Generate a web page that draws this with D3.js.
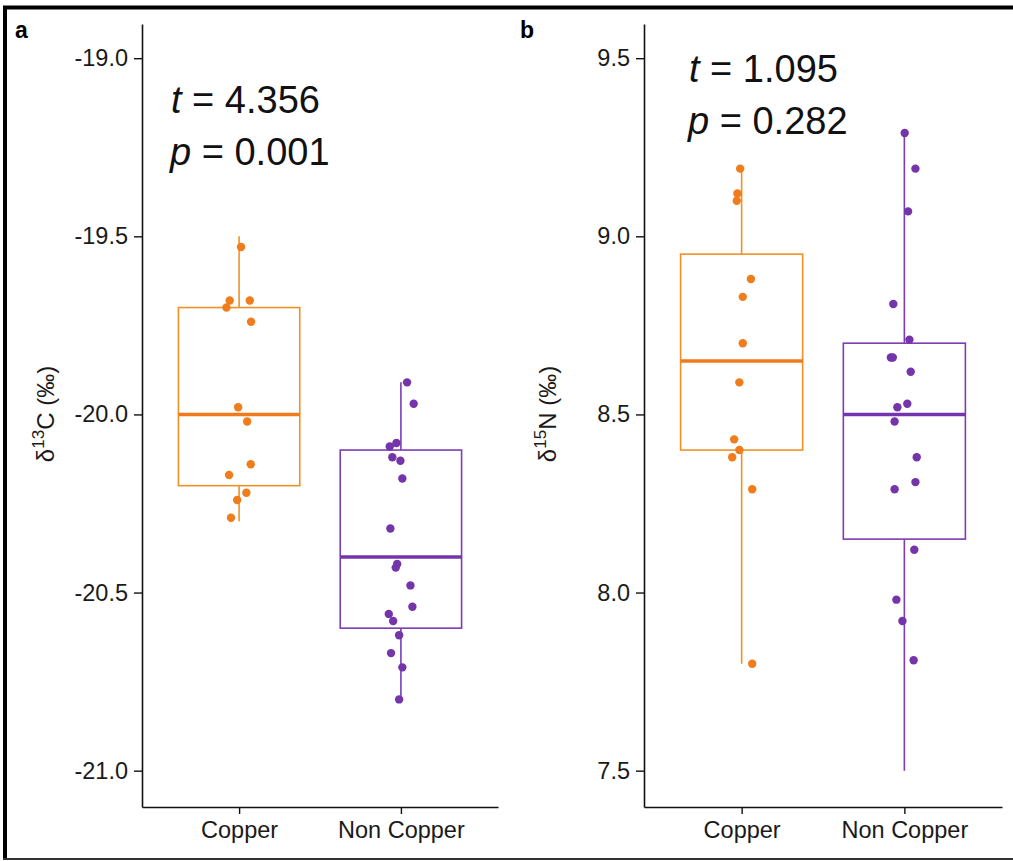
<!DOCTYPE html>
<html>
<head>
<meta charset="utf-8">
<script src="https://cdn.jsdelivr.net/npm/d3@7"></script>
<style>
body{margin:0;background:#fff;}
svg{display:block;}
text{font-family:"Liberation Sans",Arial,sans-serif;}
</style>
</head>
<body>
<svg id="chart" width="1013" height="861"></svg>
<script>
var categories = ["Copper", "Non Copper"];
var carbonTicks = [-19.0, -19.5, -20.0, -20.5, -21.0];
var nitrogenTicks = [9.5, 9.0, 8.5, 8.0, 7.5];

// lower whisker, q1, median, q3, upper whisker
var carbonCopperBox = [-20.30, -20.20, -20.00, -19.70, -19.50];
var carbonNonCopperBox = [-20.80, -20.60, -20.40, -20.10, -19.91];
var nitrogenCopperBox = [7.80, 8.40, 8.65, 8.95, 9.19];
var nitrogenNonCopperBox = [7.50, 8.15, 8.50, 8.70, 9.29];

// individual samples (value) and their horizontal jitter (category units)
var carbonCopper = [-19.53, -19.68, -19.68, -19.70, -19.74, -19.98, -20.02, -20.14, -20.17, -20.22, -20.24, -20.29];
var carbonCopperJitter = [0.012, -0.058, 0.066, -0.078, 0.074, -0.006, 0.05, 0.072, -0.062, 0.045, -0.012, -0.05];
var carbonNonCopper = [-19.91, -19.97, -20.08, -20.09, -20.12, -20.13, -20.18, -20.32, -20.42, -20.43, -20.48, -20.54, -20.56, -20.58, -20.62, -20.67, -20.71, -20.80];
var carbonNonCopperJitter = [0.038, 0.079, -0.028, -0.069, -0.053, -0.003, 0.009, -0.065, -0.023, -0.032, 0.059, 0.071, -0.075, -0.048, -0.011, -0.061, 0.009, -0.011];
var nitrogenCopper = [9.19, 9.12, 9.10, 8.88, 8.83, 8.70, 8.59, 8.43, 8.40, 8.38, 8.29, 7.80];
var nitrogenCopperJitter = [-0.009, -0.026, -0.03, 0.057, 0.007, 0.007, -0.014, -0.046, -0.014, -0.058, 0.065, 0.065];
var nitrogenNonCopper = [9.29, 9.19, 9.07, 8.81, 8.71, 8.66, 8.66, 8.62, 8.52, 8.53, 8.48, 8.38, 8.31, 8.29, 8.12, 7.98, 7.92, 7.81];
var nitrogenNonCopperJitter = [0.002, 0.068, 0.023, -0.068, 0.031, -0.083, -0.071, 0.039, -0.043, 0.018, -0.06, 0.076, 0.068, -0.06, 0.061, -0.049, -0.012, 0.057];

var tStats = ["4.356", "1.095"];
var pStats = ["0.001", "0.282"];

var lineColors = ["#EF9127", "#7B3DB4"];
var medianColors = ["#F07A1E", "#7434B0"];
var pointColors = ["#F07C1C", "#7535AA"];

var svg = d3.select("#chart");

// frame
svg.append("line").attr("x1", 3).attr("x2", 1013).attr("y1", 7.5).attr("y2", 7.5)
    .attr("stroke", "#000").attr("stroke-width", 4);
svg.append("line").attr("x1", 5).attr("x2", 5).attr("y1", 6).attr("y2", 860)
    .attr("stroke", "#000").attr("stroke-width", 4);
svg.append("line").attr("x1", 3).attr("x2", 1013).attr("y1", 859).attr("y2", 859)
    .attr("stroke", "#333").attr("stroke-width", 2);

function drawPanel(opt){
    var y = d3.scaleLinear().domain(opt.domain).range([807, 24]);
    var x = d3.scalePoint().domain(categories).range([opt.left, opt.right]).padding(0.6);
    var bw = x.step() * 0.75;
    var g = svg.append("g");

    // boxes
    opt.boxes.forEach(function(b, i){
        var cx = x(categories[i]);
        g.append("line").attr("x1", cx).attr("x2", cx)
            .attr("y1", y(b[0])).attr("y2", y(b[4]))
            .attr("stroke", lineColors[i]).attr("stroke-width", 1.6);
        g.append("rect").attr("x", cx - bw / 2).attr("width", bw)
            .attr("y", y(b[3])).attr("height", y(b[1]) - y(b[3]))
            .attr("fill", "#fff").attr("stroke", lineColors[i]).attr("stroke-width", 1.6);
        g.append("line").attr("x1", cx - bw / 2).attr("x2", cx + bw / 2)
            .attr("y1", y(b[2])).attr("y2", y(b[2]))
            .attr("stroke", medianColors[i]).attr("stroke-width", 3.5);
    });

    // jittered points
    opt.points.forEach(function(vals, i){
        g.selectAll(null).data(vals).enter().append("circle")
            .attr("cx", function(d, k){ return x(categories[i]) + opt.jitter[i][k] * x.step(); })
            .attr("cy", function(d){ return y(d); })
            .attr("r", 4.2)
            .attr("fill", pointColors[i]);
    });

    var yAxis = g.append("g").attr("transform", "translate(" + opt.left + ",0)")
        .call(d3.axisLeft(y).tickValues(opt.ticks).tickFormat(function(d){ return d.toFixed(1); })
            .tickSize(8).tickPadding(6).tickSizeOuter(0));
    var xAxis = g.append("g").attr("transform", "translate(0,807)")
        .call(d3.axisBottom(x).tickSize(7).tickPadding(7).tickSizeOuter(0));
    [yAxis, xAxis].forEach(function(a){
        a.select(".domain").attr("stroke", "#111").attr("stroke-width", 1.6);
        a.selectAll(".tick line").attr("stroke", "#111").attr("stroke-width", 1.4);
        a.selectAll(".tick text").attr("font-size", 23.5).attr("fill", "#1a1a1a")
            .attr("font-family", "'Liberation Sans', Arial, sans-serif");
    });

    // y title
    var title = g.append("text")
        .attr("transform", "translate(" + (opt.left - 88) + "," + 414 + ") rotate(-90)")
        .attr("text-anchor", "middle").attr("font-size", 24).attr("fill", "#1a1a1a");
    title.append("tspan").text("\u03b4");
    title.append("tspan").attr("font-size", 17).attr("dy", -10).text(opt.iso);
    title.append("tspan").attr("dy", 10).text(opt.element + " (\u2030)");

    // panel letter
    svg.append("text").attr("x", opt.letterX).attr("y", 38)
        .attr("font-size", 23).attr("font-weight", "bold").attr("fill", "#000")
        .text(opt.letter);

    // statistics
    var st = g.append("text").attr("x", opt.statX).attr("y", opt.statY)
        .attr("font-family", "'Open Sans', sans-serif").attr("font-size", 38).attr("fill", "#111");
    st.append("tspan").attr("font-style", "italic").text("t");
    st.append("tspan").text(" = " + opt.t);
    var sp = g.append("text").attr("x", opt.statX - 1).attr("y", opt.statY + 52)
        .attr("font-family", "'Open Sans', sans-serif").attr("font-size", 38).attr("fill", "#111");
    sp.append("tspan").attr("font-style", "italic").text("p");
    sp.append("tspan").text(" = " + opt.p);
}

drawPanel({
    left: 142, right: 498,
    domain: [-21.102, -18.904],
    ticks: carbonTicks,
    boxes: [carbonCopperBox, carbonNonCopperBox],
    points: [carbonCopper, carbonNonCopper],
    jitter: [carbonCopperJitter, carbonNonCopperJitter],
    iso: "13", element: "C",
    letter: "a", letterX: 15,
    statX: 171, statY: 113,
    t: tStats[0], p: pStats[0]
});

drawPanel({
    left: 644, right: 1002,
    domain: [7.398, 9.596],
    ticks: nitrogenTicks,
    boxes: [nitrogenCopperBox, nitrogenNonCopperBox],
    points: [nitrogenCopper, nitrogenNonCopper],
    jitter: [nitrogenCopperJitter, nitrogenNonCopperJitter],
    iso: "15", element: "N",
    letter: "b", letterX: 520,
    statX: 689, statY: 82,
    t: tStats[1], p: pStats[1]
});
</script>
</body>
</html>
